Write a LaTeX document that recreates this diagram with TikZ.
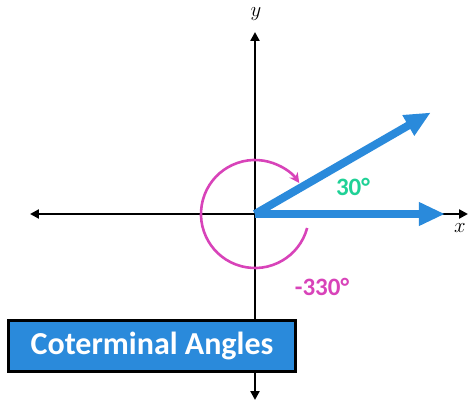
\documentclass[tikz,border=0pt]{standalone}
\usepackage{fontspec}
\setsansfont{Carlito}
\usetikzlibrary{arrows.meta}
\definecolor{rayblue}{HTML}{2A8ADB}
\definecolor{arcpink}{HTML}{D843B9}
\definecolor{anglegreen}{HTML}{1FD196}
\tikzstyle{axis}=[draw=black, line width=2.6pt, {Triangle[length=9pt,width=9pt]}-{Triangle[length=9pt,width=9pt]}]
\tikzstyle{ray}=[draw=rayblue, line width=8pt, -{Triangle[length=26pt,width=22pt]}]
\tikzstyle{turn}=[draw=arcpink, line width=2.6pt, -{Stealth[length=10pt,width=10pt]}]
\tikzstyle{axislabel}=[font=\fontsize{20}{24}\selectfont\itshape]
\tikzstyle{anglelabel}=[font=\fontsize{25}{30}\selectfont\sffamily\bfseries]
\tikzstyle{titlebox}=[draw=black, line width=3pt, fill=rayblue, text=white, minimum width=287pt, minimum height=51pt, font=\fontsize{32}{38}\selectfont\sffamily\bfseries]

\begin{document}
\begin{tikzpicture}[x=1pt, y=1pt]
	\useasboundingbox (-255,-188) rectangle (214,214);
	\coordinate (0) at (0, 0);
	\coordinate (1) at (-225, 0);
	\coordinate (2) at (213, 0);
	\coordinate (3) at (0, 182);
	\coordinate (4) at (0, -186);
	\coordinate (5) at (30:203);
	\coordinate (6) at (190, 0);
	\node [style=axislabel] (7) at (1, 200) {$y$};
	\node [style=axislabel] (8) at (205, -14) {$x$};
	\node [style=anglelabel, text=anglegreen] (9) at (98, 27) {30°};
	\node [style=anglelabel, text=arcpink] (10) at (67, -73) {-330°};
	\draw [style=axis] (1) to (2);
	\draw [style=axis] (4) to (3);
	\draw [style=ray] (0) to (5);
	\draw [style=ray] (0) to (6);
	\draw [style=turn] (-15:54) arc[start angle=-15, end angle=-325, radius=54];
	\node [style=titlebox] (11) at (-103, -132) {Coterminal Angles};
\end{tikzpicture}
\end{document}
